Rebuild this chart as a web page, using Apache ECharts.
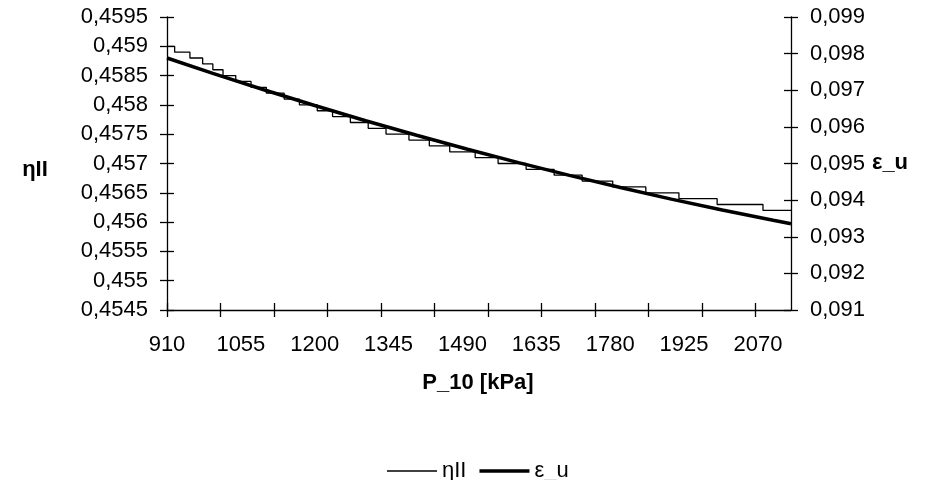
<!DOCTYPE html>
<html>
<head>
<meta charset="utf-8">
<script src="https://cdn.jsdelivr.net/npm/echarts@6/dist/echarts.min.js"></script>
<style>
  html, body { margin: 0; padding: 0; background: #fff; }
  #chart { width: 925px; height: 480px; }
</style>
</head>
<body>
<div id="chart"></div>
<script>
// P_10 axis: labelled pressures and tick-mark pressures [kPa]
const pressureLabels = [910, 1055, 1200, 1345, 1490, 1635, 1780, 1925, 2070];
const pressureTicks = [910, 1015, 1120, 1225, 1330, 1435, 1540, 1645, 1750, 1855, 1960, 2065];
const pressureMin = 910;
const pressureMax = 2135;

// ηII (4-decimal values): pressure at which each level begins, and the level
const etaKpa = [910, 925, 955, 980, 1000, 1020, 1045, 1075, 1105, 1140, 1170, 1205, 1235, 1270,
                1305, 1340, 1385, 1425, 1465, 1515, 1560, 1615, 1670, 1725, 1785, 1850, 1915,
                1990, 2080, 2135];
const etaVal = [0.4590, 0.4589, 0.4588, 0.4587, 0.4586, 0.4585, 0.4584, 0.4583, 0.4582, 0.4581,
                0.4580, 0.4579, 0.4578, 0.4577, 0.4576, 0.4575, 0.4574, 0.4573, 0.4572, 0.4571,
                0.4570, 0.4569, 0.4568, 0.4567, 0.4566, 0.4565, 0.4564, 0.4563, 0.4562, 0.4562];

// ε_u along P_10
const epsKpa = [910, 1000, 1100, 1200, 1300, 1400, 1500, 1600, 1700, 1800, 1900, 2000, 2100, 2135];
const epsVal = [0.097881, 0.097463, 0.097014, 0.096583, 0.096168, 0.095770, 0.095388, 0.095023,
                0.094675, 0.094343, 0.094028, 0.093730, 0.093449, 0.093354];

// left / right value axes
const etaAxis = { min: 0.4545, max: 0.4595, step: 0.0005 };
const epsAxis = { min: 0.091, max: 0.099, step: 0.001 };

const FONT = "'Liberation Sans', Arial, sans-serif";
const TICK_SIZE = 22;
const INK = '#000';

const zip = (xs, ys) => xs.map((x, i) => [x, ys[i]]);
const comma = (digits) => (v) => String(+v.toFixed(digits)).replace('.', ',');

// one axis draws the outer half of each tick, a twin draws the inner half,
// so the marks cross the axis line
function xAxisPair() {
  const base = {
    type: 'value', min: pressureMin, max: pressureMax, position: 'bottom',
    splitLine: { show: false }
  };
  return [
    Object.assign({}, base, {
      axisLine: { show: true, lineStyle: { color: INK, width: 1.3 } },
      axisTick: { show: true, customValues: pressureTicks, length: 7, lineStyle: { color: INK, width: 1.3 } },
      axisLabel: { show: true, customValues: pressureLabels, margin: 24, color: INK,
                   fontFamily: FONT, fontSize: TICK_SIZE, formatter: (v) => String(v) }
    }),
    Object.assign({}, base, {
      axisLine: { show: false },
      axisTick: { show: true, inside: true, customValues: pressureTicks, length: 7,
                  lineStyle: { color: INK, width: 1.3 } },
      axisLabel: { show: false }
    })
  ];
}

function yAxisPair(range, side, digits) {
  const base = {
    type: 'value', min: range.min, max: range.max, interval: range.step, position: side,
    splitLine: { show: false }
  };
  return [
    Object.assign({}, base, {
      axisLine: { show: true, lineStyle: { color: INK, width: 1.3 } },
      axisTick: { show: true, length: 7, lineStyle: { color: INK, width: 1.3 } },
      axisLabel: { show: true, margin: 19, color: INK, fontFamily: FONT, fontSize: TICK_SIZE,
                   formatter: comma(digits) }
    }),
    Object.assign({}, base, {
      axisLine: { show: false },
      axisTick: { show: true, inside: true, length: 7, lineStyle: { color: INK, width: 1.3 } },
      axisLabel: { show: false }
    })
  ];
}

const chart = echarts.init(document.getElementById('chart'), null, { renderer: 'canvas' });

const yLeft = yAxisPair(etaAxis, 'left', 4);
const yRight = yAxisPair(epsAxis, 'right', 3);
const titleFont = "bold 22px 'Liberation Sans', Arial, sans-serif";

chart.setOption({
  animation: false,
  backgroundColor: '#fff',
  textStyle: { fontFamily: FONT, color: INK },
  grid: { left: 167, right: 134, top: 17, bottom: 170, containLabel: false },
  xAxis: xAxisPair(),
  yAxis: [yLeft[0], yRight[0], yLeft[1], yRight[1]],
  legend: {
    data: [
      { name: 'ηII', icon: 'path://M0,0H50V1.3H0Z' },
      { name: 'ε_u', icon: 'path://M0,0H50V3.5H0Z' }
    ],
    symbolKeepAspect: true,
    top: 455, left: 382,
    itemWidth: 50, itemHeight: 14, itemGap: 13,
    textStyle: { fontFamily: FONT, fontSize: TICK_SIZE, color: INK },
    selectedMode: false
  },
  graphic: [
    { type: 'text', x: 35, y: 170,
      style: { text: 'ηII', font: titleFont, fill: INK, align: 'center', verticalAlign: 'middle' } },
    { type: 'text', x: 890, y: 163,
      style: { text: 'ε_u', font: titleFont, fill: INK, align: 'center', verticalAlign: 'middle' } },
    { type: 'text', x: 478, y: 383,
      style: { text: 'P_10 [kPa]', font: titleFont, fill: INK, align: 'center', verticalAlign: 'middle' } }
  ],
  series: [
    {
      name: 'ηII', type: 'line', xAxisIndex: 0, yAxisIndex: 0,
      data: zip(etaKpa, etaVal), step: 'end',
      showSymbol: false, symbol: 'none',
      lineStyle: { color: INK, width: 1.3 }, itemStyle: { color: INK },
      z: 2
    },
    {
      name: 'ε_u', type: 'line', xAxisIndex: 0, yAxisIndex: 1,
      data: zip(epsKpa, epsVal),
      showSymbol: false, symbol: 'none',
      lineStyle: { color: INK, width: 3.5 }, itemStyle: { color: INK },
      z: 3
    }
  ]
});
</script>
</body>
</html>
